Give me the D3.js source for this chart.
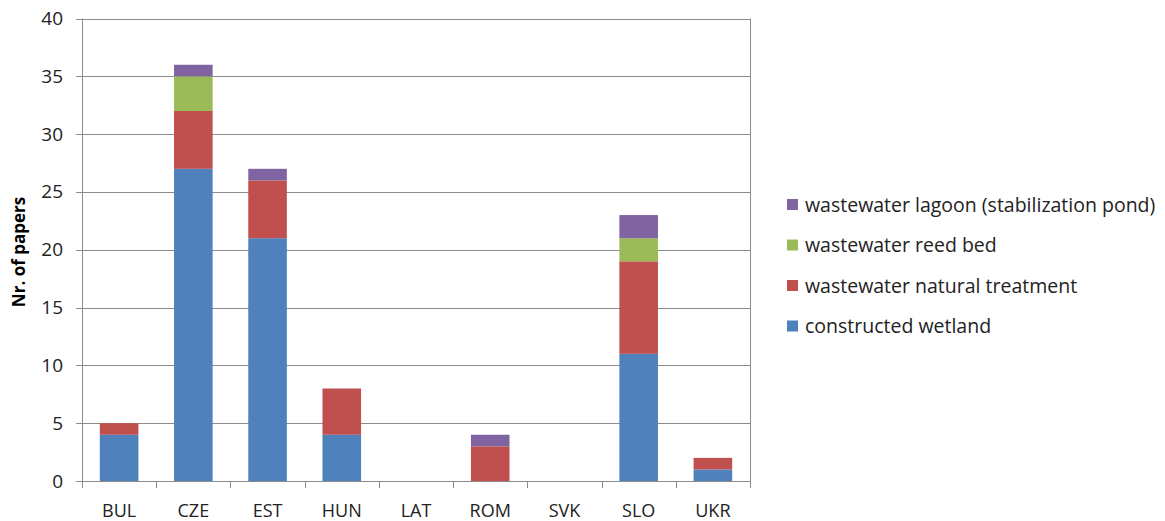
<!DOCTYPE html>
<html>
<head>
<meta charset="utf-8">
<script src="https://cdn.jsdelivr.net/npm/d3@7"></script>
<style>
  body { margin: 0; background: #fff; }
  svg text { font-family: "Open Sans", "Noto Sans", sans-serif; fill: #222; }
</style>
</head>
<body>
<svg id="chart" width="1165" height="521"></svg>
<script>
// categories (countries)
const countries = ['BUL', 'CZE', 'EST', 'HUN', 'LAT', 'ROM', 'SVK', 'SLO', 'UKR']

// series, bottom to top in the stack
const seriesNames = ['constructed wetland', 'wastewater natural treatment', 'wastewater reed bed', 'wastewater lagoon (stabilization pond)']
const constructedWetland = [4, 27, 21, 4, 0, 0, 0, 11, 1]
const naturalTreatment   = [1, 5, 5, 4, 0, 3, 0, 8, 1]
const reedBed            = [0, 3, 0, 0, 0, 0, 0, 2, 0]
const lagoon             = [0, 1, 1, 0, 0, 1, 0, 2, 0]

const yTicks = [0, 5, 10, 15, 20, 25, 30, 35, 40]
const colors = ['#4F81BD', '#C0504D', '#9BBB59', '#8064A2']

let svg = d3.select('#chart')

// plot area
let plotLeft = 82, plotRight = 750, plotTop = 18.5, plotBottom = 481

let rows = countries.map((c, i) => ({
  country: c,
  s0: constructedWetland[i],
  s1: naturalTreatment[i],
  s2: reedBed[i],
  s3: lagoon[i]
}))
let stacked = d3.stack().keys(['s0', 's1', 's2', 's3'])(rows)

let x = d3.scaleBand().domain(countries).range([plotLeft, plotRight]).paddingInner(0.48).paddingOuter(0.24)
let xEdge = d3.scaleLinear().domain([0, countries.length]).range([plotLeft, plotRight])
let y = d3.scaleLinear().domain([0, 40]).range([plotBottom, plotTop])

// gridlines
svg.append('g')
   .selectAll('line')
   .data(yTicks)
   .enter()
   .append('line')
   .attr('x1', plotLeft - 6)
   .attr('x2', plotRight)
   .attr('y1', d => Math.round(y(d)) + 0.5)
   .attr('y2', d => Math.round(y(d)) + 0.5)
   .attr('stroke', '#8c8c8c')
   .attr('stroke-width', 1)

// plot border (left + right)
svg.append('line')
   .attr('x1', plotLeft + 0.5).attr('x2', plotLeft + 0.5)
   .attr('y1', plotTop).attr('y2', plotBottom + 7)
   .attr('stroke', '#8c8c8c')
svg.append('line')
   .attr('x1', plotRight + 0.5).attr('x2', plotRight + 0.5)
   .attr('y1', plotTop).attr('y2', plotBottom + 7)
   .attr('stroke', '#8c8c8c')

// category tick marks
svg.append('g')
   .selectAll('line')
   .data(d3.range(1, countries.length))
   .enter()
   .append('line')
   .attr('x1', d => Math.round(xEdge(d)) + 0.5)
   .attr('x2', d => Math.round(xEdge(d)) + 0.5)
   .attr('y1', plotBottom)
   .attr('y2', plotBottom + 7)
   .attr('stroke', '#8c8c8c')

// bars
svg.append('g')
   .selectAll('g')
   .data(stacked)
   .enter()
   .append('g')
   .attr('fill', (d, i) => colors[i])
   .selectAll('rect')
   .data(d => d.filter(p => p[1] > p[0]))
   .enter()
   .append('rect')
   .attr('x', d => x(d.data.country))
   .attr('width', x.bandwidth())
   .attr('y', d => y(d[1]))
   .attr('height', d => y(d[0]) - y(d[1]))

// y tick labels
svg.append('g')
   .selectAll('text')
   .data(yTicks)
   .enter()
   .append('text')
   .attr('x', 63)
   .attr('y', d => y(d) + 6.5)
   .attr('text-anchor', 'end')
   .style('font-size', '19px')
   .text(d => d)

// x labels
svg.append('g')
   .selectAll('text')
   .data(countries)
   .enter()
   .append('text')
   .attr('x', d => x(d) + x.bandwidth() / 2)
   .attr('y', 517)
   .attr('text-anchor', 'middle')
   .style('font-size', '18px')
   .text(d => d)

// y axis title
svg.append('text')
   .attr('transform', 'translate(25,252) rotate(-90)')
   .attr('text-anchor', 'middle')
   .style('font-size', '17px')
   .style('font-weight', 'bold')
   .style('fill', '#000')
   .text('Nr. of papers')

// legend, top entry is the top of the stack
let legendItems = seriesNames.map((n, i) => ({ name: n, color: colors[i] })).reverse()
let lg = svg.append('g')
            .selectAll('g')
            .data(legendItems)
            .enter()
            .append('g')
            .attr('transform', (d, i) => `translate(787,${205 + i * 40.5})`)
lg.append('rect')
  .attr('x', 0)
  .attr('y', -6)
  .attr('width', 11)
  .attr('height', 11)
  .attr('fill', d => d.color)
lg.append('text')
  .attr('x', 18)
  .attr('y', 6.5)
  .style('font-size', '19.5px')
  .text(d => d.name)
</script>
</body>
</html>
